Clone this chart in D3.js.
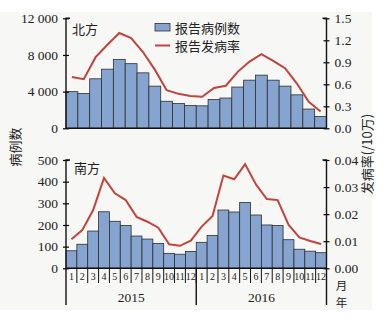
<!DOCTYPE html>
<html>
<head>
<meta charset="utf-8">
<script src="https://cdn.jsdelivr.net/npm/d3@7"></script>
<style>
  body { margin: 0; background: #fff; }
  text { fill: #222; }
  .num { font-family: "Liberation Serif", "Times New Roman", serif; font-size: 13.5px; }
  .cjk { font-family: "Noto Sans CJK SC", sans-serif; font-size: 13px; }
</style>
</head>
<body>
<svg id="chart" width="391" height="318"></svg>
<script>
// values
const months = ["1","2","3","4","5","6","7","8","9","10","11","12",
                "1","2","3","4","5","6","7","8","9","10","11","12"];
const years = ["2015", "2016"];

// north panel shows 22 bars in the reference
const northCases = [4000, 3800, 5400, 6450, 7500, 7050, 6050, 4600, 2950, 2700, 2500,
                    2450, 3150, 3300, 4500, 5250, 5800, 5250, 4600, 3650, 2100, 1300];
const northRate  = [0.70, 0.67, 0.97, 1.14, 1.30, 1.23, 1.04, 0.80, 0.52, 0.47, 0.44,
                    0.43, 0.55, 0.58, 0.77, 0.91, 1.01, 0.92, 0.82, 0.61, 0.36, 0.23];

const southCases = [81, 111, 172, 261, 217, 198, 149, 135, 115, 69, 65, 78,
                    120, 152, 269, 260, 304, 246, 200, 198, 132, 88, 79, 72];
const southRate  = [0.0107, 0.0141, 0.0215, 0.0334, 0.0277, 0.0252, 0.0190, 0.0172, 0.0150, 0.0089, 0.0083, 0.0102,
                    0.0154, 0.0193, 0.0343, 0.0329, 0.0385, 0.0310, 0.0256, 0.0252, 0.0161, 0.0114, 0.0101, 0.0090];

const northCaseTicks = [0, 4000, 8000, 12000];
const northRateTicks = [0, 0.3, 0.6, 0.9, 1.2, 1.5];
const southCaseTicks = [0, 100, 200, 300, 400, 500];
const southRateTicks = [0, 0.01, 0.02, 0.03, 0.04];

const legendLabels = ["报告病例数", "报告发病率"];
const panelLabels = ["北方", "南方"];

const barFill = "#86a4d0";
const lineColor = "#c1443d";

const svg = d3.select("#chart");
svg.append("rect").attr("x", 0).attr("y", 12).attr("width", 372).attr("height", 298).attr("fill", "#f7f7f6");

const x0 = 66, x1 = 326.5;
const top1 = 18.3, bot1 = 128.3, top2 = 160, bot2 = 268.3;

const xN = d3.scaleBand().domain(northCases.map((d, i) => i)).range([x0, x1]);
const xS = d3.scaleBand().domain(southCases.map((d, i) => i)).range([x0, x1]);
const yNc = d3.scaleLinear().domain([0, 12000]).range([bot1, top1]);
const yNr = d3.scaleLinear().domain([0, 1.5]).range([bot1, top1]);
const ySc = d3.scaleLinear().domain([0, 500]).range([bot2, top2]);
const ySr = d3.scaleLinear().domain([0, 0.04]).range([bot2, top2]);

const spaced = d3.formatLocale({ decimal: ".", thousands: " ", grouping: [3], currency: ["", ""] }).format(",");

function panel(xs, cases, rate, yc, yr, caseTicks, rateTicks, rateFmt) {
  const g = svg.append("g");
  const bw = xs.bandwidth();

  g.selectAll("rect.bar")
    .data(cases)
    .join("rect")
    .attr("class", "bar")
    .attr("x", (d, i) => xs(i))
    .attr("y", d => yc(d))
    .attr("width", bw)
    .attr("height", d => yc(0) - yc(d))
    .attr("fill", barFill)
    .attr("stroke", "#2e2e2e")
    .attr("stroke-width", 0.8);

  g.append("path")
    .datum(rate)
    .attr("fill", "none")
    .attr("stroke", lineColor)
    .attr("stroke-width", 2)
    .attr("d", d3.line().x((d, i) => xs(i) + bw / 2).y(d => yr(d)));

  const [b, t] = yc.range();

  // left axis
  const la = g.append("g").attr("transform", `translate(${x0},0)`)
    .call(d3.axisLeft(yc).tickValues(caseTicks).tickFormat(spaced).tickSizeInner(3).tickSizeOuter(0).tickPadding(5));
  la.select(".domain").remove();
  la.selectAll(".tick line").attr("x1", 3).attr("stroke-width", 1.2);
  la.selectAll("text").attr("class", "num").attr("fill", "#222");

  // right axis
  const ra = g.append("g").attr("transform", `translate(${x1},0)`)
    .call(d3.axisRight(yr).tickValues(rateTicks).tickFormat(d3.format(rateFmt)).tickSizeInner(3).tickSizeOuter(0).tickPadding(5));
  ra.select(".domain").remove();
  ra.selectAll(".tick line").attr("x1", -3).attr("stroke-width", 1.2);
  ra.selectAll("text").attr("class", "num").attr("fill", "#222");

  g.append("path")
    .attr("d", `M${x0 + 4},${t}H${x0}V${b}H${x1}V${t}H${x1 - 4}`)
    .attr("fill", "none").attr("stroke", "#111").attr("stroke-width", 1.4);
  return g;
}

panel(xN, northCases, northRate, yNc, yNr, northCaseTicks, northRateTicks, ".1f");
panel(xS, southCases, southRate, ySc, ySr, southCaseTicks, southRateTicks, ".2f");

// panel labels
svg.append("text").attr("class", "cjk").attr("x", 72).attr("y", 28).attr("dominant-baseline", "central").text(panelLabels[0]);
svg.append("text").attr("class", "cjk").attr("x", 74).attr("y", 167).attr("dominant-baseline", "central").text(panelLabels[1]);

// legend
svg.append("rect").attr("x", 155).attr("y", 23.5).attr("width", 15).attr("height", 7.5)
  .attr("fill", barFill).attr("stroke", "#2e2e2e").attr("stroke-width", 0.8);
svg.append("text").attr("class", "cjk").attr("x", 175).attr("y", 27.5).attr("dominant-baseline", "central").text(legendLabels[0]);
svg.append("line").attr("x1", 155).attr("x2", 170).attr("y1", 45.5).attr("y2", 45.5)
  .attr("stroke", lineColor).attr("stroke-width", 2);
svg.append("text").attr("class", "cjk").attr("x", 175).attr("y", 45.5).attr("dominant-baseline", "central").text(legendLabels[1]);

// month / year axis under the south panel
const bw = xS.bandwidth();
svg.append("g").selectAll("text")
  .data(months)
  .join("text")
  .attr("class", "num")
  .attr("x", (d, i) => xS(i) + bw / 2)
  .attr("y", 276.5)
  .attr("text-anchor", "middle")
  .attr("dominant-baseline", "central")
  .style("font-size", "10px")
  .text(d => d);

svg.append("g").selectAll("line")
  .data(months.slice(1))
  .join("line")
  .attr("x1", (d, i) => xS(i + 1)).attr("x2", (d, i) => xS(i + 1))
  .attr("y1", bot2).attr("y2", 283)
  .attr("stroke", "#111").attr("stroke-width", 1);

const yearEdges = [x0, xS(12), x1];
svg.append("g").selectAll("line")
  .data(yearEdges)
  .join("line")
  .attr("x1", d => d).attr("x2", d => d)
  .attr("y1", bot2).attr("y2", 305)
  .attr("stroke", "#111").attr("stroke-width", 1.4);

svg.append("g").selectAll("text")
  .data(years)
  .join("text")
  .attr("class", "num")
  .attr("x", (d, i) => (yearEdges[i] + yearEdges[i + 1]) / 2)
  .attr("y", 297)
  .attr("text-anchor", "middle")
  .attr("dominant-baseline", "central")
  .text(d => d);

svg.append("text").attr("class", "cjk").attr("x", 341.5).attr("y", 284.5).attr("text-anchor", "middle").attr("dominant-baseline", "central").style("font-size", "11.5px").text("月");
svg.append("text").attr("class", "cjk").attr("x", 341.5).attr("y", 301.5).attr("text-anchor", "middle").attr("dominant-baseline", "central").style("font-size", "11.5px").text("年");

// axis titles
svg.append("text").attr("class", "cjk")
  .attr("transform", "translate(14,147) rotate(-90)")
  .attr("text-anchor", "middle").attr("dominant-baseline", "central")
  .text("病例数");
svg.append("text").attr("class", "cjk")
  .attr("transform", "translate(366,154) rotate(-90)")
  .attr("text-anchor", "middle").attr("dominant-baseline", "central")
  .text("发病率(/10万)");
</script>
</body>
</html>
